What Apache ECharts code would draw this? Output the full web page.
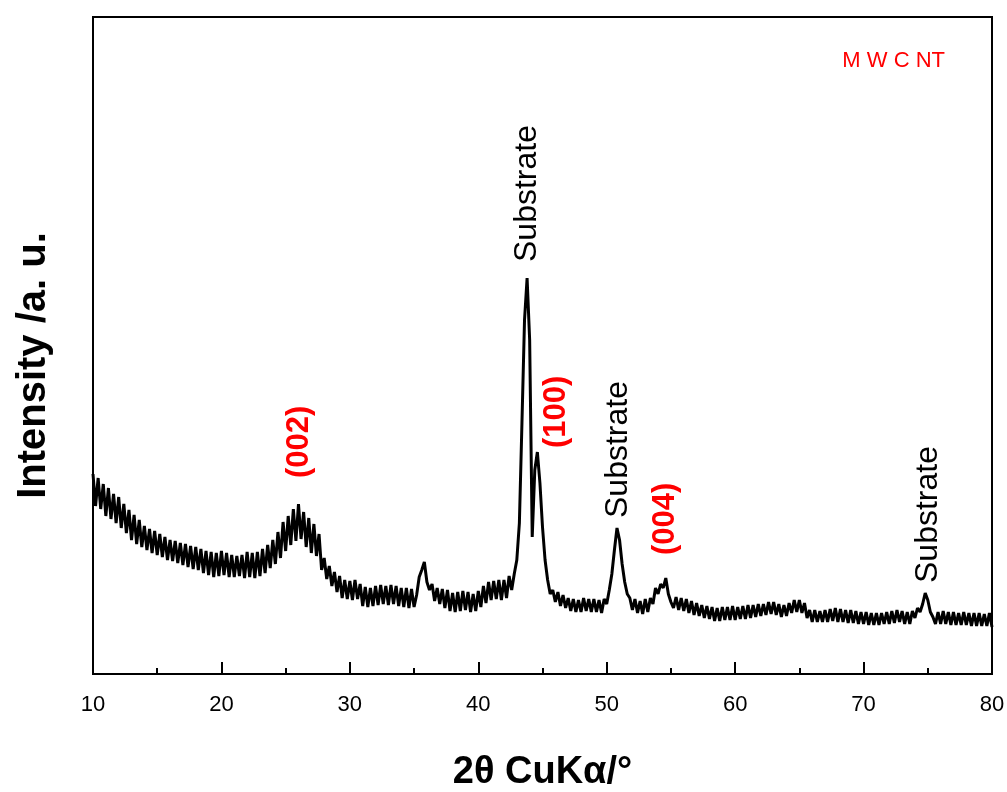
<!DOCTYPE html>
<html>
<head>
<meta charset="utf-8">
<style>
  html, body { margin: 0; padding: 0; background: #fff; }
  #chart { width: 1007px; height: 792px; }
</style>
<script src="https://cdn.jsdelivr.net/npm/echarts@6/dist/echarts.min.js"></script>
</head>
<body>
<div id="chart"></div>
<script>
  // 2theta from 10 to 80 in steps of 0.2, one row per degree
  const thetaStart = 10;
  const thetaStep = 0.2;
  const intensity = [
    200, 168, 196, 165, 190,
    158, 186, 155, 180, 151,
    177, 146, 170, 141, 164,
    134, 159, 130, 154, 127,
    148, 124, 145, 121, 143,
    119, 140, 117, 137, 114,
    134, 113, 133, 111, 131,
    109, 130, 107, 128, 105,
    127, 104, 125, 101, 123,
    99, 122, 97, 121, 98,
    123, 99, 121, 97, 119,
    97, 118, 98, 119, 96,
    122, 97, 121, 96, 122,
    98, 125, 101, 129, 106,
    134, 110, 142, 116, 152,
    123, 158, 129, 165, 133,
    170, 135, 162, 127, 156,
    121, 150, 118, 140, 104,
    116, 95, 108, 88, 102,
    82, 98, 76, 94, 75,
    93, 74, 94, 75, 90,
    68, 87, 67, 86, 68,
    88, 69, 89, 70, 88,
    69, 89, 70, 88, 68,
    86, 67, 86, 66, 85,
    67, 79, 97, 104, 112,
    92, 84, 90, 73, 86,
    70, 85, 66, 84, 63,
    81, 62, 82, 63, 83,
    64, 82, 62, 80, 63,
    83, 67, 88, 71, 92,
    74, 93, 75, 94, 74,
    94, 76, 98, 84, 100,
    114, 151, 251, 354, 396,
    334, 137, 204, 222, 191,
    147, 114, 94, 80, 84,
    72, 82, 68, 79, 66,
    76, 63, 75, 62, 74,
    62, 76, 63, 75, 62,
    75, 62, 74, 61, 75,
    70, 84, 100, 124, 146,
    134, 110, 92, 80, 76,
    64, 75, 61, 73, 60,
    75, 62, 76, 70, 86,
    80, 90, 86, 96, 80,
    72, 66, 77, 64, 76,
    63, 75, 61, 73, 59,
    71, 58, 69, 56, 68,
    55, 67, 53, 66, 53,
    67, 54, 67, 54, 68,
    54, 67, 55, 68, 55,
    69, 56, 69, 57, 70,
    58, 70, 59, 72, 60,
    72, 59, 70, 57, 69,
    58, 71, 61, 74, 62,
    74, 61, 71, 56, 64,
    52, 64, 52, 63, 52,
    64, 52, 65, 53, 66,
    52, 65, 52, 64, 51,
    64, 51, 63, 50, 62,
    50, 62, 49, 61, 49,
    61, 49, 61, 50, 62,
    50, 63, 51, 64, 52,
    63, 50, 62, 50, 63,
    56, 66, 62, 70, 81,
    74, 62, 57, 50, 62,
    50, 63, 50, 62, 49,
    62, 49, 61, 49, 62,
    49, 61, 48, 61, 48,
    61, 48, 60, 48, 61,
    47
  ];

  // peak labels: [2theta, intensity at the foot of the text, text]
  const substratePeaks = [
    [43.8, 412, 'Substrate'],
    [50.9, 156, 'Substrate'],
    [75.0, 91, 'Substrate']
  ];
  const carbonPeaks = [
    [26.1, 196, '(002)'],
    [46.1, 226, '(100)'],
    [54.55, 119, '(004)']
  ];

  const xTicks = [10, 20, 30, 40, 50, 60, 70, 80];

  const pattern = intensity.map((v, i) => [(thetaStart * 10 + i * thetaStep * 10) / 10, v]);

  const font = 'Arial, "Liberation Sans", sans-serif';

  const chart = echarts.init(document.getElementById('chart'));

  const peakLabel = (color, weight) => ({
    show: true,
    position: 'inside',
    rotate: 90,
    align: 'left',
    verticalAlign: 'middle',
    formatter: p => p.data[2],
    color: color,
    fontFamily: font,
    fontWeight: weight,
    fontSize: weight === 'bold' ? 31 : 32
  });

  chart.setOption({
    animation: false,
    grid: {
      left: 93,
      right: 15,
      top: 17,
      bottom: 118,
      outerBoundsMode: 'none',
      show: true,
      borderColor: '#000',
      borderWidth: 2
    },
    graphic: [{
      type: 'text',
      right: 62,
      top: 50,
      style: {
        text: 'M W C NT',
        fill: '#ff0000',
        font: '22px ' + font
      }
    }],
    xAxis: {
      type: 'value',
      min: xTicks[0],
      max: xTicks[xTicks.length - 1],
      interval: 10,
      name: '2θ CuKα/°',
      nameLocation: 'middle',
      nameGap: 80,
      nameTextStyle: {
        color: '#000',
        fontFamily: font,
        fontWeight: 'bold',
        fontSize: 38
      },
      axisLine: { lineStyle: { color: '#000', width: 2 } },
      axisTick: { inside: true, length: 12, lineStyle: { color: '#000', width: 2 } },
      minorTick: { show: true, splitNumber: 2, length: 6, lineStyle: { color: '#000', width: 2 } },
      axisLabel: {
        margin: 20,
        color: '#000',
        fontFamily: font,
        fontSize: 22
      },
      splitLine: { show: false }
    },
    yAxis: {
      type: 'value',
      min: 0,
      max: 657,
      name: 'Intensity /a. u.',
      nameLocation: 'middle',
      nameGap: 39,
      nameTextStyle: {
        color: '#000',
        fontFamily: font,
        fontWeight: 'bold',
        fontSize: 40,
        padding: [0, 40, 0, 0]
      },
      axisLine: { show: true, lineStyle: { color: '#000', width: 2 } },
      axisTick: { show: false },
      axisLabel: { show: false },
      splitLine: { show: false }
    },
    series: [{
      name: 'MWCNT',
      type: 'line',
      data: pattern,
      showSymbol: false,
      sampling: 'none',
      lineStyle: { color: '#000', width: 3 }
    }, {
      type: 'scatter',
      data: substratePeaks,
      symbolSize: 1,
      itemStyle: { color: 'transparent', opacity: 1 },
      label: peakLabel('#000', 'normal')
    }, {
      type: 'scatter',
      data: carbonPeaks,
      symbolSize: 1,
      itemStyle: { color: 'transparent', opacity: 1 },
      label: peakLabel('#ff0000', 'bold')
    }]
  });
</script>
</body>
</html>
